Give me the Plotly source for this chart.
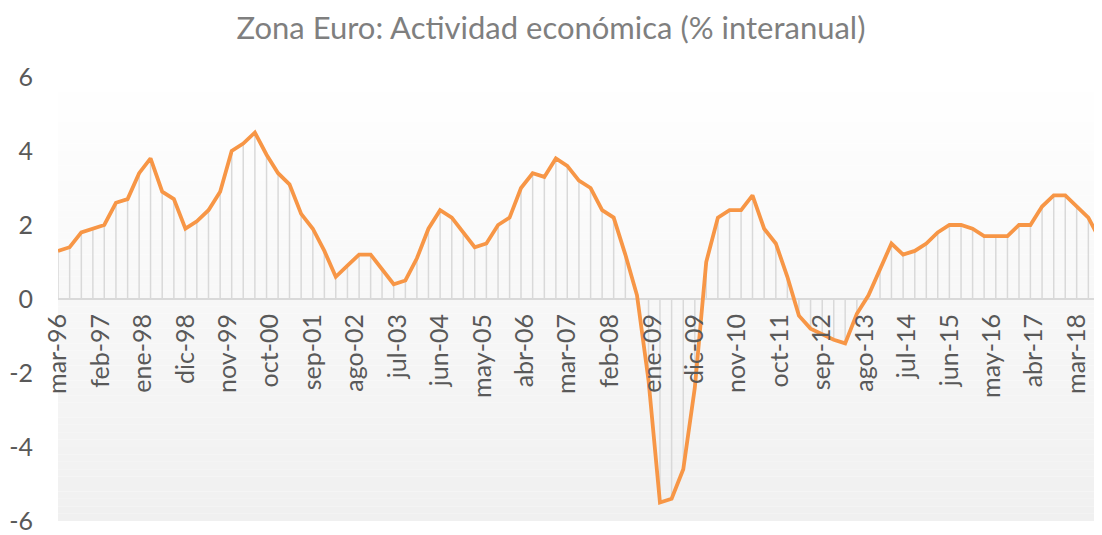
import pandas as pd
import plotly.graph_objects as go

# Quarterly year-on-year GDP growth, Euro area, mar-96 .. sep-18
values = [
    1.3, 1.4, 1.8, 1.9, 2.0, 2.6, 2.7, 3.4, 3.8, 2.9,
    2.7, 1.9, 2.1, 2.4, 2.9, 4.0, 4.2, 4.5, 3.9, 3.4,
    3.1, 2.3, 1.9, 1.3, 0.6, 0.9, 1.2, 1.2, 0.8, 0.4,
    0.5, 1.1, 1.9, 2.4, 2.2, 1.8, 1.4, 1.5, 2.0, 2.2,
    3.0, 3.4, 3.3, 3.8, 3.6, 3.2, 3.0, 2.4, 2.2, 1.2,
    0.1, -2.2, -5.5, -5.4, -4.6, -2.4, 1.0, 2.2, 2.4, 2.4,
    2.8, 1.9, 1.5, 0.6, -0.45, -0.8, -0.95, -1.1, -1.2, -0.4,
    0.1, 0.8, 1.5, 1.2, 1.3, 1.5, 1.8, 2.0, 2.0, 1.9,
    1.7, 1.7, 1.7, 2.0, 2.0, 2.5, 2.8, 2.8, 2.5, 2.2,
    1.6,
]
dates = pd.date_range(start="1996-03-01", periods=len(values), freq="3MS")

tick_labels = [
    "mar-96", "feb-97", "ene-98", "dic-98", "nov-99", "oct-00", "sep-01",
    "ago-02", "jul-03", "jun-04", "may-05", "abr-06", "mar-07", "feb-08",
    "ene-09", "dic-09", "nov-10", "oct-11", "sep-12", "ago-13", "jul-14",
    "jun-15", "may-16", "abr-17", "mar-18",
]
y_ticks = [-6, -4, -2, 0, 2, 4, 6]

title_text = "Zona Euro: Actividad económica (% interanual)"

meses = ["ene", "feb", "mar", "abr", "may", "jun",
         "jul", "ago", "sep", "oct", "nov", "dic"]
tick_dates = [
    pd.Timestamp(year=2000 + int(t[4:]) if int(t[4:]) < 50 else 1900 + int(t[4:]),
                 month=meses.index(t[:3]) + 1, day=1)
    for t in tick_labels
]

# drop lines from each point to zero
drop_x, drop_y = [], []
for d, v in zip(dates, values):
    drop_x += [d, d, None]
    drop_y += [v, 0, None]

fig = go.Figure()
fig.add_trace(go.Scatter(
    x=drop_x, y=drop_y, mode="lines",
    line=dict(color="#d9d9d9", width=1.5),
    hoverinfo="skip", showlegend=False, cliponaxis=False,
))
fig.add_trace(go.Scatter(
    x=dates, y=values, mode="lines",
    line=dict(color="#f79646", width=3.8),
    showlegend=False, cliponaxis=False,
))

# vertical gradient background of plot area
n = 60
shapes = []
for i in range(n):
    t = i / (n - 1)  # 0 bottom, 1 top
    c = int(round(240 + (255 - 240) * t))
    shapes.append(dict(
        type="rect", xref="x domain", yref="y domain",
        x0=0, x1=1, y0=i / n, y1=(i + 1) / n,
        fillcolor=f"rgb({c},{c},{c})", line=dict(width=0), layer="below",
    ))

# the page body has an 8px default margin; margins compensate for it
fig.update_layout(
    width=1102, height=535,
    margin=dict(l=50, r=10, t=69, b=22, autoexpand=False),
    paper_bgcolor="white", plot_bgcolor="white",
    shapes=shapes,
    title=dict(
        text=title_text, x=543 / 1102, xanchor="center",
        y=1 - 20 / 535, yref="container", yanchor="middle",
        font=dict(family="Lato", size=31, color="#7f7f7f"),
    ),
    xaxis=dict(
        range=[dates[0], dates[-1]], automargin=False,
        tickvals=tick_dates, ticktext=tick_labels,
        tickangle=-90, anchor="free", position=0.5,
        showgrid=False, zeroline=False, showline=False,
        ticks="", ticklabelstandoff=9,
        tickfont=dict(family="Lato", size=25, color="#595959"),
    ),
    yaxis=dict(
        range=[-6, 6], tickvals=y_ticks, automargin=False,
        ticktext=[str(v) for v in y_ticks],
        showgrid=False, zeroline=True, zerolinecolor="#d9d9d9",
        zerolinewidth=1.5, showline=False, ticks="",
        ticklabelstandoff=24,
        tickfont=dict(family="Lato", size=25, color="#595959"),
    ),
)

fig.write_html("out.html")
